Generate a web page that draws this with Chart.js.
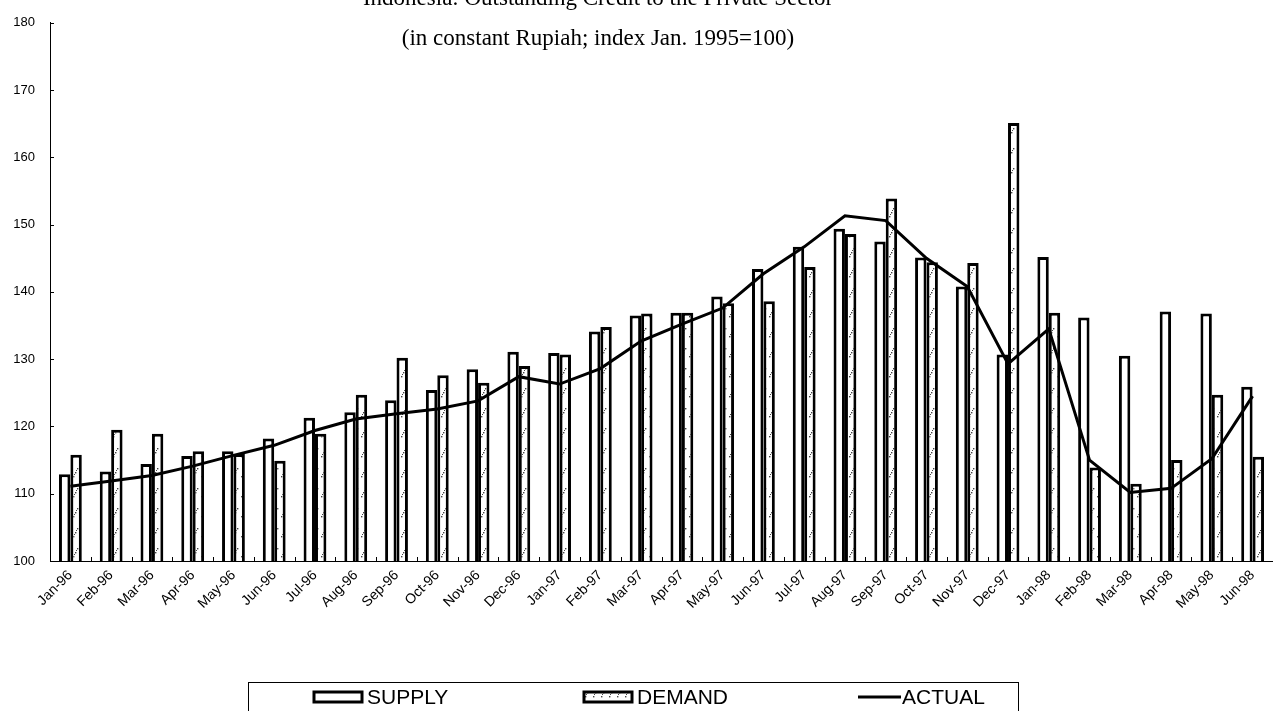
<!DOCTYPE html>
<html>
<head>
<meta charset="utf-8">
<title>Indonesia: Outstanding Credit to the Private Sector</title>
<script src="https://cdn.jsdelivr.net/npm/chart.js@4.4.0/dist/chart.umd.min.js"></script>
<style>
    body { margin: 0; background: #fff; }
    #grafica { display: block; }
</style>
</head>
<body>
<canvas id="grafica" width="1273" height="711"></canvas>
<script>
// Datos (indice Ene. 1995 = 100)
var meses = ['Jan-96', 'Feb-96', 'Mar-96', 'Apr-96', 'May-96', 'Jun-96', 'Jul-96', 'Aug-96', 'Sep-96', 'Oct-96',
    'Nov-96', 'Dec-96', 'Jan-97', 'Feb-97', 'Mar-97', 'Apr-97', 'May-97', 'Jun-97', 'Jul-97', 'Aug-97',
    'Sep-97', 'Oct-97', 'Nov-97', 'Dec-97', 'Jan-98', 'Feb-98', 'Mar-98', 'Apr-98', 'May-98', 'Jun-98'];

var supply = [112.9, 113.3, 114.4, 115.6, 116.3, 118.2, 121.3, 122.1, 123.9, 125.4,
    128.5, 131.1, 130.9, 134.1, 136.5, 136.9, 139.3, 143.4, 146.7, 149.4,
    147.5, 145.1, 140.8, 130.7, 145.2, 136.2, 130.5, 137.1, 136.8, 125.9];

var demand = [115.8, 119.5, 118.9, 116.3, 115.9, 114.9, 118.9, 124.7, 130.2, 127.6,
    126.5, 129.0, 130.7, 134.8, 136.8, 136.9, 138.3, 138.6, 143.7, 148.6,
    153.9, 144.4, 144.3, 165.1, 136.9, 113.9, 111.5, 115.0, 124.7, 115.5];

var actual = [111.1, 111.9, 112.7, 114.1, 115.7, 117.2, 119.4, 121.1, 121.9, 122.6,
    123.8, 127.4, 126.3, 128.6, 132.7, 135.2, 137.6, 142.7, 146.7, 151.3,
    150.6, 145.0, 140.8, 129.3, 134.5, 115.0, 110.2, 110.8, 115.2, 124.5];

var yMin = 100, yMax = 180, yPaso = 10;
var titulo = ['Indonesia: Outstanding Credit to the Private Sector', '(in constant Rupiah; index Jan. 1995=100)'];
var nombres = ['SUPPLY', 'DEMAND', 'ACTUAL'];

var ctx = document.getElementById('grafica').getContext('2d');

// patron punteado diagonal para DEMAND
function crearPatron() {
    var c = document.createElement('canvas');
    c.width = 8;
    c.height = 20;
    var p = c.getContext('2d');
    p.fillStyle = '#fff';
    p.fillRect(0, 0, 8, 20);
    p.fillStyle = '#444';
    [[1, 16], [2, 14], [3, 12], [4, 10], [5, 8]].forEach(function(d, i) {
        if (i % 2 === 0) p.fillRect(d[0], d[1], 1.4, 1.4);
        else p.fillRect(d[0], d[1], 1, 1);
    });
    return ctx.createPattern(c, 'repeat');
}
var patron = crearPatron();

// titulo, marcas interiores y leyenda
var extras = {
    id: 'extras',
    afterDraw: function(chart) {
        var c = chart.ctx;
        var area = chart.chartArea;
        var x = chart.scales.x, y = chart.scales.y;
        c.save();

        // marcas de los ejes hacia dentro
        c.strokeStyle = '#000';
        c.lineWidth = 1;
        c.beginPath();
        for (var v = yMin; v <= yMax; v += yPaso) {
            var py = Math.round(y.getPixelForValue(v)) + 0.5;
            c.moveTo(area.left, py);
            c.lineTo(area.left + 4, py);
        }
        for (var i = 0; i <= meses.length; i++) {
            var px = Math.round(x.getPixelForValue(i) - (x.getPixelForValue(1) - x.getPixelForValue(0)) / 2) + 0.5;
            c.moveTo(px, area.bottom);
            c.lineTo(px, area.bottom - 4);
        }
        c.stroke();

        // titulo
        c.fillStyle = '#000';
        c.font = '23px "Liberation Serif", "Times New Roman", serif';
        c.textAlign = 'center';
        c.textBaseline = 'alphabetic';
        c.fillText(titulo[0], 598, 5);
        c.fillText(titulo[1], 598, 45);

        // leyenda
        c.strokeStyle = '#000';
        c.lineWidth = 1;
        c.strokeRect(248.5, 682.5, 770, 40);

        c.lineWidth = 3;
        c.fillStyle = '#fff';
        c.fillRect(314, 692, 48, 10);
        c.strokeRect(314, 692, 48, 10);
        c.fillStyle = patron;
        c.fillRect(584, 692, 48, 10);
        c.strokeRect(584, 692, 48, 10);
        c.beginPath();
        c.moveTo(858, 697);
        c.lineTo(901, 697);
        c.stroke();

        c.fillStyle = '#000';
        c.font = '21px "Liberation Sans", Arial, sans-serif';
        c.textAlign = 'left';
        c.fillText(nombres[0], 367, 704);
        c.fillText(nombres[1], 637, 704);
        c.fillText(nombres[2], 902, 704);
        c.restore();
    }
};

var myChart = new Chart(ctx, {
    type: 'bar',
    data: {
        labels: meses,
        datasets: [{
            type: 'line',
            label: nombres[2],
            data: actual,
            borderColor: '#000',
            borderWidth: 3,
            pointRadius: 0,
            fill: false,
            tension: 0,
            order: 0
        }, {
            label: nombres[0],
            data: supply,
            backgroundColor: '#fff',
            borderColor: '#000',
            borderWidth: 3,
            borderSkipped: 'bottom',
            categoryPercentage: 0.56,
            barPercentage: 1.0,
            order: 1
        }, {
            label: nombres[1],
            data: demand,
            backgroundColor: patron,
            borderColor: '#000',
            borderWidth: 3,
            borderSkipped: 'bottom',
            categoryPercentage: 0.56,
            barPercentage: 1.0,
            order: 1
        }]
    },
    options: {
        responsive: false,
        animation: false,
        layout: { padding: { top: 18, right: 0, left: 0, bottom: 0 } },
        plugins: {
            legend: { display: false },
            title: { display: false },
            tooltip: { enabled: false }
        },
        scales: {
            x: {
                grid: { display: false, drawTicks: false },
                border: { display: true, color: '#000', width: 1 },
                ticks: {
                    color: '#000',
                    font: { family: '"Liberation Sans", Arial, sans-serif', size: 14 },
                    maxRotation: 45,
                    minRotation: 45,
                    autoSkip: false,
                    padding: 6
                },
                afterFit: function(s) { s.height = 150; }
            },
            y: {
                min: yMin,
                max: yMax,
                grid: { display: false, drawTicks: false },
                border: { display: true, color: '#000', width: 1 },
                ticks: {
                    stepSize: yPaso,
                    color: '#000',
                    font: { family: '"Liberation Sans", Arial, sans-serif', size: 13 },
                    padding: 15
                },
                afterFit: function(s) { s.width = 50; }
            }
        }
    },
    plugins: [extras]
});
</script>
</body>
</html>
